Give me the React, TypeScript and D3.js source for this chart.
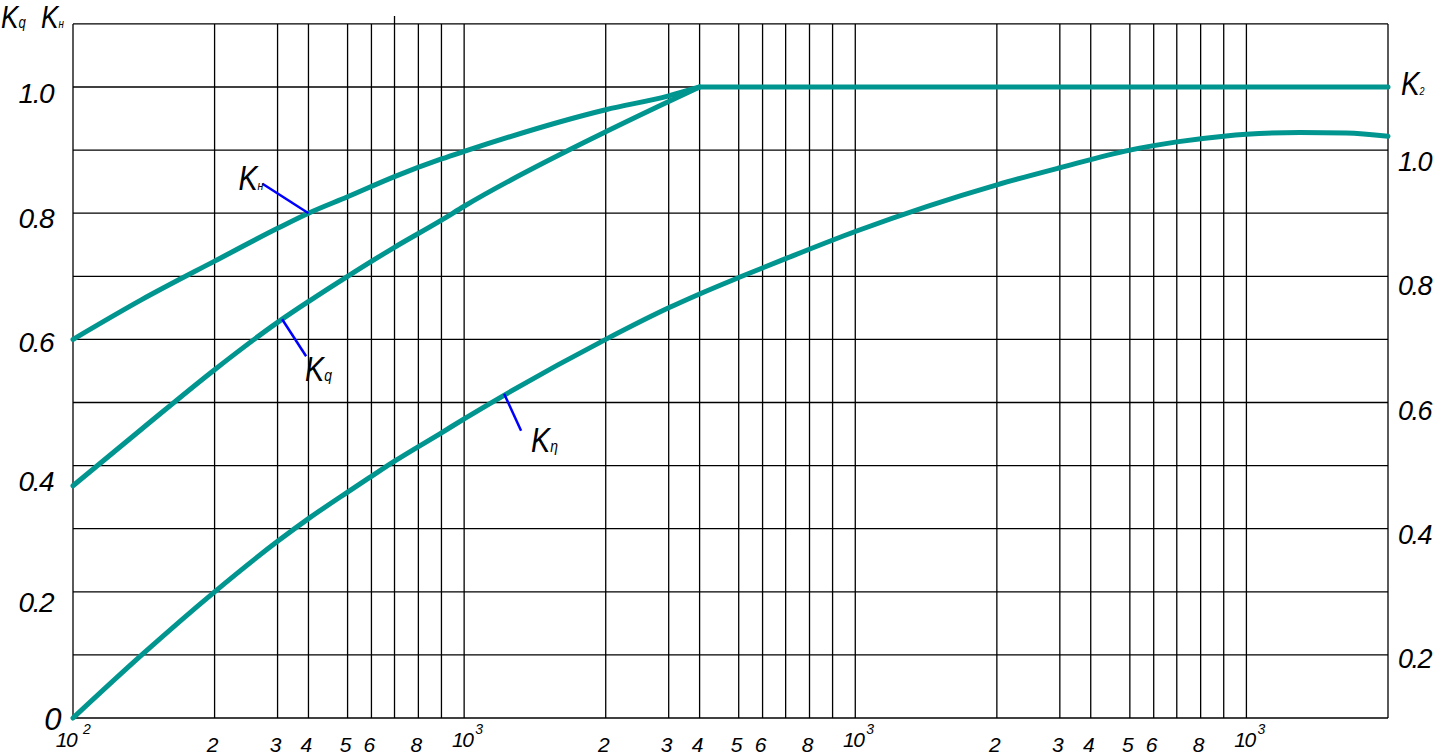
import React from "react";
import * as d3 from "d3";

// ---------- data ----------
const DECADE_EXPONENTS = [2, 3, 4];
const GRID_MANTISSAS = [1, 2, 3, 4, 5, 6, 7, 8, 9];
const X_LABEL_MANTISSAS = [2, 3, 4, 5, 6, 8];
const DECADE_LABEL_BASE = ["10", "10", "10", "10"];
const DECADE_LABEL_EXP = ["2", "3", "3", "3"];
const X_MIN = 100;
const X_MAX = 200000;

const Y_LEFT_TICKS = [0, 0.2, 0.4, 0.6, 0.8, 1.0];
const Y_RIGHT_TICKS = [0.2, 0.4, 0.6, 0.8, 1.0];
const Y_GRID_STEPS = [0, 0.1, 0.2, 0.3, 0.4, 0.5, 0.6, 0.7, 0.8, 0.9, 1.0, 1.1];

const KN_X = [100, 140, 200, 300, 400, 500, 700, 900, 1000, 2000, 3000, 4000];
const KN_Y = [0.6, 0.663, 0.724, 0.776, 0.8, 0.826, 0.858, 0.886, 0.898, 0.964, 0.986, 1.0];

const KQ_X = [100, 140, 200, 300, 400, 500, 700, 900, 1000, 2000, 3000, 4000];
const KQ_Y = [0.368, 0.458, 0.552, 0.627, 0.66, 0.7, 0.746, 0.789, 0.811, 0.929, 0.977, 1.0];

const K2_X = [4000, 200000];
const K2_Y = [1.0, 1.0];

const KETA_X = [100, 140, 200, 300, 400, 500, 600, 700, 900, 1000, 2000, 3000, 4000, 5000, 7000, 10000, 20000, 30000, 50000, 70000, 90000, 100000, 130000, 163000, 200000];
const KETA_Y = [0, 0.1, 0.2, 0.28, 0.316, 0.358, 0.383, 0.407, 0.452, 0.474, 0.6, 0.65, 0.672, 0.698, 0.728, 0.771, 0.845, 0.872, 0.9, 0.913, 0.922, 0.925, 0.928, 0.927, 0.922];

// leader-line anchors on curves (data space)
const ANNOT_SUB = ["н", "q", "η"];
const ANNOT_AX = [400, 313, 1216];
const ANNOT_AY = [0.8, 0.632, 0.514];

// ---------- layout ----------
const W = 1442;
const H = 756;
const PLOT_L = 73;
const PLOT_R = 1388;
const PLOT_TOP_Y = 24;
const Y0 = 718;
const Y1 = 87;
// positions of mantissa lines inside one decade on this (hand-made) log paper
const DECADE_FRACTION = [0, 0.362, 0.523, 0.602, 0.702, 0.763, 0.822, 0.883, 0.942];
const LEFT_LABEL_DY = [1, 11, 16, 3, 5, 6];
const ANNOT_OFFSET = [
  { lx: -46, ly: -29.5, tx: -24, ty: 6 },
  { lx: 24, ly: 37, tx: -1, ty: 25 },
  { lx: 17, ly: 37, tx: 10, ty: 21 },
];

const TEAL = "#00958f";
const FONT = "'Liberation Sans Narrow', 'Arial Narrow', 'Liberation Sans', Arial, sans-serif";
const NARROW = 0.82;

const KLabel = ({ px, py, sub, size, subSize, subDx }: any) => (
  <text
    transform={`translate(${px},${py}) scale(${NARROW},1)`}
    fontFamily={FONT}
    fontStyle="italic"
    fontSize={size}
    fill="#000"
  >
    K
    <tspan fontSize={subSize} dx={subDx}>{sub}</tspan>
  </text>
);

export default function App() {
  // build warped log scale
  const domain: number[] = [];
  const range: number[] = [];
  const lastFrac = DECADE_FRACTION[1];
  const decadeW = (PLOT_R - PLOT_L) / (DECADE_EXPONENTS.length + lastFrac);
  DECADE_EXPONENTS.forEach((e, di) => {
    GRID_MANTISSAS.forEach((m, mi) => {
      domain.push(Math.log10(m * Math.pow(10, e)));
      range.push(PLOT_L + (di + DECADE_FRACTION[mi]) * decadeW);
    });
  });
  const lastE = DECADE_EXPONENTS[DECADE_EXPONENTS.length - 1] + 1;
  domain.push(lastE);
  range.push(PLOT_L + DECADE_EXPONENTS.length * decadeW);
  domain.push(Math.log10(X_MAX));
  range.push(PLOT_L + (DECADE_EXPONENTS.length + lastFrac) * decadeW);

  const xLin = d3.scaleLinear().domain(domain).range(range);
  const x = (v: number) => xLin(Math.log10(Math.max(X_MIN, v)));
  const y = d3.scaleLinear().domain([0, 1]).range([Y0, Y1]);
  const yR = d3.scaleLinear().domain([0, 1]).range([y(-0.1) + 2, y(0.9) + 12]);

  // vertical grid values
  const vGrid: number[] = [];
  DECADE_EXPONENTS.forEach((e) => GRID_MANTISSAS.forEach((m) => vGrid.push(m * Math.pow(10, e))));
  vGrid.push(Math.pow(10, lastE));
  vGrid.push(X_MAX);

  const line = d3
    .line<[number, number]>()
    .x((d) => x(d[0]))
    .y((d) => y(d[1]))
    .curve(d3.curveMonotoneX);

  const series = [
    KN_X.map((v, i) => [v, KN_Y[i]] as [number, number]),
    KQ_X.map((v, i) => [v, KQ_Y[i]] as [number, number]),
    K2_X.map((v, i) => [v, K2_Y[i]] as [number, number]),
    KETA_X.map((v, i) => [v, KETA_Y[i]] as [number, number]),
  ];

  const decadeStarts = [...DECADE_EXPONENTS, lastE].map((e) => Math.pow(10, e));

  return (
    <svg
      width={W}
      height={H}
      style={{ position: "absolute", left: 0, top: 0, background: "#fff" }}
    >
      <rect x={0} y={0} width={W} height={H} fill="#fff" />
      {/* grid */}
      <g stroke="#000" strokeWidth={1.3}>
        {vGrid.map((v, i) => (
          <line
            key={"v" + i}
            x1={x(v)}
            x2={x(v)}
            y1={v === 700 ? PLOT_TOP_Y - 8 : PLOT_TOP_Y}
            y2={Y0}
          />
        ))}
        {Y_GRID_STEPS.map((v, i) => (
          <line key={"h" + i} x1={PLOT_L} x2={PLOT_R} y1={y(v)} y2={y(v)} />
        ))}
      </g>

      {/* curves */}
      <g fill="none" stroke={TEAL} strokeWidth={5} strokeLinecap="round" strokeLinejoin="round">
        {series.map((s, i) => (
          <path key={"s" + i} d={line(s) || ""} />
        ))}
      </g>

      {/* leader lines */}
      {ANNOT_SUB.map((sub, i) => {
        const ax = x(ANNOT_AX[i]);
        const ay = y(ANNOT_AY[i]);
        const o = ANNOT_OFFSET[i];
        return (
          <g key={"a" + i}>
            <line x1={ax} y1={ay} x2={ax + o.lx} y2={ay + o.ly} stroke="#0000ff" strokeWidth={2.5} />
            <KLabel
              px={ax + o.lx + o.tx}
              py={ay + o.ly + o.ty}
              sub={sub}
              size={35}
              subSize={i === 0 ? 13 : 17}
              subDx={0}
            />
          </g>
        );
      })}

      {/* left tick labels */}
      {Y_LEFT_TICKS.map((v, i) => (
        <text
          key={"yl" + i}
          x={v === 0 ? 60 : 53}
          y={y(v) + LEFT_LABEL_DY[i]}
          textAnchor="end"
          dominantBaseline="central"
          fontFamily={FONT}
          fontStyle="italic"
          fontSize={v === 0 ? 31 : 28}
          letterSpacing={-1.5}
        >
          {v === 0 ? "0" : v.toFixed(1)}
        </text>
      ))}

      {/* right tick labels */}
      {Y_RIGHT_TICKS.map((v, i) => (
        <text
          key={"yr" + i}
          x={1398}
          y={yR(v)}
          dominantBaseline="central"
          fontFamily={FONT}
          fontStyle="italic"
          fontSize={27}
          letterSpacing={-1.5}
        >
          {v.toFixed(1)}
        </text>
      ))}

      {/* bottom labels */}
      {DECADE_EXPONENTS.map((e, di) =>
        X_LABEL_MANTISSAS.map((m, mi) => (
          <text
            key={"xl" + di + "-" + mi}
            x={x(m * Math.pow(10, e)) - 2}
            y={752}
            textAnchor="middle"
            fontFamily={FONT}
            fontStyle="italic"
            fontSize={21}
          >
            {m}
          </text>
        ))
      )}
      {decadeStarts.map((v, i) => (
        <g key={"dl" + i}>
          <text
            x={x(v) - (i === 0 ? 7 : 2)}
            y={747}
            textAnchor="middle"
            fontFamily={FONT}
            fontStyle="italic"
            fontSize={21}
            letterSpacing={-1.5}
          >
            {DECADE_LABEL_BASE[i]}
          </text>
          <text
            x={x(v) + (i === 0 ? 10 : 11)}
            y={734}
            textAnchor="start"
            fontFamily={FONT}
            fontStyle="italic"
            fontSize={14}
          >
            {DECADE_LABEL_EXP[i]}
          </text>
        </g>
      ))}

      {/* axis titles */}
      <KLabel px={1} py={28} sub="q" size={32} subSize={16} subDx={0} />
      <KLabel px={41} py={28} sub="н" size={32} subSize={12} subDx={0} />
      <KLabel px={1401} py={95} sub="2" size={34} subSize={11} subDx={0} />
    </svg>
  );
}
